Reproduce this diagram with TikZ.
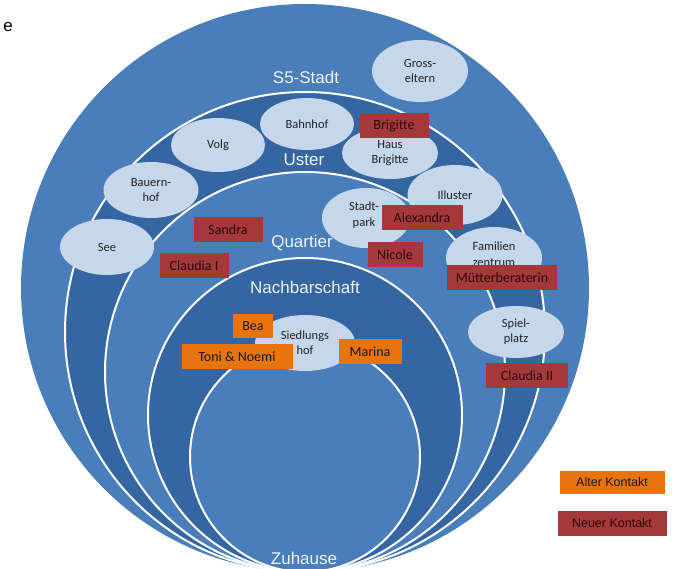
\documentclass[tikz,border=0pt]{standalone}
\usepackage{fontspec}
\setmainfont{Carlito}
\newfontfamily\arialf{Liberation Sans}
\usetikzlibrary{shapes.geometric}
\definecolor{midblue}{HTML}{4A7EBB}
\definecolor{darkblue}{HTML}{3566A2}
\definecolor{lightblue}{HTML}{C6D6EB}
\definecolor{kred}{HTML}{A5383A}
\definecolor{korange}{HTML}{E8740F}
\definecolor{ringtext}{HTML}{EEF3FA}
\definecolor{redtext}{HTML}{2E0808}
\definecolor{placetext}{HTML}{222428}
\begin{document}
\begin{tikzpicture}[x=1pt,y=-1pt,
  place/.style={ellipse, fill=lightblue, inner sep=0pt, align=center, text=placetext,
    font=\fontsize{12.5}{15}\selectfont},
  placetxt/.style={inner sep=0pt, align=center, text=placetext,
    font=\fontsize{12.5}{15.5}\selectfont},
  newbox/.style={fill=kred, minimum height=25pt, inner sep=0pt, text=redtext,
    font=\fontsize{14}{16}\selectfont},
  oldbox/.style={fill=korange, minimum height=25pt, inner sep=0pt, text=black!90,
    font=\fontsize{14}{16}\selectfont},
  legendfont/.style={font=\arialf\fontsize{12.5}{14}\selectfont},
  ringlabel/.style={text=ringtext, inner sep=0pt, font=\arialf\fontsize{17}{19}\selectfont},
  ringline/.style={draw=white, line width=2pt}]
\useasboundingbox (0,0) rectangle (675,569);
\clip (0,0) rectangle (675,569);
\fill[white] (0,0) rectangle (675,569);
% rings
\fill[midblue] (305,288) circle[radius=284pt];
\filldraw[fill=darkblue, ringline] (305,332) circle[radius=240pt];
\filldraw[fill=midblue, ringline] (305,372) circle[radius=200pt];
\filldraw[fill=darkblue, ringline] (305,415) circle[radius=157pt];
\filldraw[fill=midblue, ringline] (305,457) circle[radius=115pt];
% stray letter
\node[font=\arialf\fontsize{17}{19}\selectfont, inner sep=0pt] (frag) at (8,27) {e};
% ring labels
\node[ringlabel] (s5) at (306,77) {S5-Stadt};
\node[ringlabel] (uster) at (304,160) {Uster};
\node[ringlabel] (quartier) at (302,243) {Quartier};
\node[ringlabel] (nachbar) at (305,287) {Nachbarschaft};
\node[ringlabel] (zuhause) at (304,558) {Zuhause};
% places
\node[place, minimum width=96pt, minimum height=62pt] (gross) at (420,71) {Gross-\\eltern};
\node[place, minimum width=94pt, minimum height=52pt] (bahnhof) at (307,124) {Bahnhof};
\node[place, minimum width=94pt, minimum height=54pt] (volg) at (218,145) {Volg};
\node[place, minimum width=95pt, minimum height=56pt] (bauernhof) at (151,190) {Bauern-\\hof};
\node[place, minimum width=94pt, minimum height=56pt] (see) at (107,247) {See};
\node[place, minimum width=96pt, minimum height=52pt] (haus) at (390,153) {Haus\\Brigitte};
\node[place, minimum width=95pt, minimum height=60pt] (illuster) at (455,195) {Illuster};
\node[place, minimum width=88pt, minimum height=60pt] (stadtpark) at (366,218) {};
\node[placetxt] (stadtparktext) at (364,215) {Stadt-\\park};
\node[place, minimum width=96pt, minimum height=62pt] (familien) at (494,258) {};
\node[placetxt] (familientext) at (494,254) {Familien\\zentrum};
\node[place, minimum width=96pt, minimum height=52pt] (spielplatz) at (516,332) {Spiel-\\platz};
\node[place, minimum width=100pt, minimum height=56pt] (siedlung) at (305,343) {Siedlungs\\hof};
% contacts
\node[newbox, minimum width=69pt] (brigitte) at (394,126) {Brigitte};
\node[newbox, minimum width=69pt] (sandra) at (228,230) {Sandra};
\node[newbox, minimum width=69pt] (claudia1) at (194,266) {Claudia I};
\node[newbox, minimum width=81pt] (alexandra) at (422,218) {Alexandra};
\node[newbox, minimum width=55pt] (nicole) at (395,255) {Nicole};
\node[newbox, minimum width=110pt] (mutter) at (502,278) {Mütterberaterin};
\node[newbox, minimum width=82pt] (claudia2) at (527,376) {Claudia II};
\node[oldbox, minimum width=40pt, minimum height=24pt] (bea) at (253,326) {Bea};
\node[oldbox, minimum width=111pt] (toni) at (237,357) {Toni \& Noemi};
\node[oldbox, minimum width=63pt] (marina) at (370,352) {Marina};
% legend
\node[oldbox, legendfont, minimum width=105pt, minimum height=23pt] (alt) at (612,482) {Alter Kontakt};
\node[newbox, legendfont, minimum width=109pt] (neu) at (612,523) {Neuer Kontakt};
\end{tikzpicture}
\end{document}
